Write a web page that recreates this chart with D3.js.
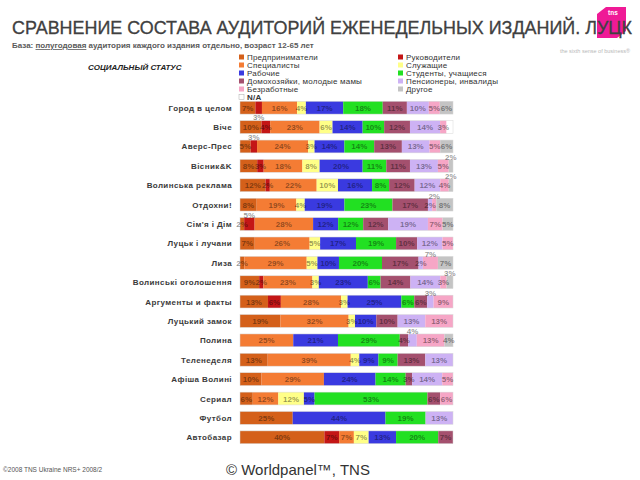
<!DOCTYPE html>
<html>
<head>
<meta charset="utf-8">
<script src="https://cdn.jsdelivr.net/npm/d3@7"></script>
<style>
  body { margin: 0; background: #fff; }
  svg { font-family: "Liberation Sans", Arial, sans-serif; display: block; }
</style>
</head>
<body>
<svg id="chart" width="640" height="480"></svg>
<script>
(function() {

    // Data
    const outlets = ['Город в целом', 'Віче', 'Аверс-Прес', 'Вісник&K', 'Волинська реклама',
        'Отдохни!', "Сім'я і Дім", 'Луцьк і лучани', 'Лиза', 'Волинські оголошення',
        'Аргументы и факты', 'Луцький замок', 'Полина', 'Теленеделя', 'Афіша Волині',
        'Сериал', 'Футбол', 'Автобазар'];

    const seriesNames = ['Предприниматели', 'Руководители', 'Специалисты', 'Служащие', 'Рабочие',
        'Студенты, учащиеся', 'Домохозяйки, молодые мамы', 'Пенсионеры, инвалиды',
        'Безработные', 'Другое', 'N/A'];

    const seriesColors = ['#d4601a', '#c41616', '#f47c34', '#ffff88', '#3a3ae0',
        '#22e022', '#a4506e', '#cdb2f4', '#f6a6c6', '#c4c4c4', '#ffffff'];

    // one array per series, in outlet order
    const entrepreneurs = [7, 10, 5, 8, 12, 8, 2, 7, 2, 9, 13, 19, 0, 13, 10, 6, 25, 40];
    const managers      = [3, 4, 3, 3, 2, 0, 5, 0, 0, 2, 6, 0, 0, 0, 0, 0, 0, 7];
    const specialists   = [16, 23, 24, 18, 22, 19, 28, 26, 29, 23, 28, 32, 25, 39, 29, 12, 0, 7];
    const clerks        = [4, 6, 3, 8, 10, 4, 0, 5, 5, 3, 3, 3, 0, 4, 0, 12, 0, 7];
    const workers       = [17, 14, 14, 20, 16, 19, 12, 17, 10, 23, 25, 10, 21, 9, 24, 5, 44, 13];
    const students      = [18, 10, 14, 11, 8, 23, 12, 19, 20, 6, 6, 0, 29, 9, 14, 53, 19, 20];
    const housewives    = [11, 12, 13, 11, 12, 17, 12, 10, 17, 14, 6, 10, 4, 13, 3, 6, 0, 7];
    const pensioners    = [10, 14, 13, 13, 12, 2, 19, 12, 2, 14, 3, 13, 4, 13, 14, 0, 13, 0];
    const unemployed    = [5, 3, 5, 5, 4, 2, 7, 5, 7, 3, 9, 13, 13, 0, 5, 6, 0, 0];
    const other         = [6, 0, 6, 2, 2, 8, 5, 0, 7, 3, 0, 0, 4, 0, 0, 0, 0, 0];
    const notAnswered   = [0, 3, 0, 0, 0, 0, 0, 0, 0, 0, 0, 0, 0, 0, 0, 0, 0, 0];

    const seriesValues = [entrepreneurs, managers, specialists, clerks, workers, students,
        housewives, pensioners, unemployed, other, notAnswered];

    // table for d3.stack
    const table = outlets.map((name, i) => {
        const row = { name: name };
        seriesNames.forEach((s, j) => { row[s] = seriesValues[j][i]; });
        return row;
    });

    const svg = d3.select('#chart');

    // Logo
    const logo = svg.append('g');
    logo.append('path')
        .attr('d', 'M597,14 L606,7 L626,7 L626,31 L617,38 L597,38 Z')
        .attr('fill', '#ef1a96');
    logo.append('text')
        .attr('x', 608).attr('y', 15)
        .attr('font-size', 6.5).attr('font-weight', 'bold')
        .attr('fill', '#fff')
        .text('tns');
    svg.append('text')
        .attr('x', 630).attr('y', 53)
        .attr('text-anchor', 'end')
        .attr('font-size', 5.5)
        .attr('fill', '#b8b8b8')
        .text('the sixth sense of business\u00AE');

    // Title
    svg.append('text')
        .attr('x', 12).attr('y', 34)
        .attr('font-size', 17.5)
        .attr('fill', '#404040')
        .attr('stroke', '#404040')
        .attr('stroke-width', 0.3)
        .attr('textLength', 620)
        .attr('lengthAdjust', 'spacingAndGlyphs')
        .text('СРАВНЕНИЕ СОСТАВА АУДИТОРИЙ ЕЖЕНЕДЕЛЬНЫХ ИЗДАНИЙ. ЛУЦК');

    const sub = svg.append('text')
        .attr('x', 12).attr('y', 48)
        .attr('font-size', 8)
        .attr('font-weight', 'bold')
        .attr('fill', '#5a5a5a');
    sub.append('tspan').text('База: ');
    sub.append('tspan').attr('text-decoration', 'underline').text('полугодовая');
    sub.append('tspan').text(' аудитория каждого издания отдельно, возраст 12-65 лет');

    svg.append('text')
        .attr('x', 88).attr('y', 70)
        .attr('font-size', 8)
        .attr('font-weight', 'bold')
        .attr('font-style', 'italic')
        .attr('fill', '#222')
        .text('СОЦИАЛЬНЫЙ СТАТУС');

    // Legend: left column then right column
    const legendOrder = [0, 2, 4, 6, 8, 10, 1, 3, 5, 7, 9];
    const legendTop = 57;
    const legend = svg.append('g').selectAll('g')
        .data(legendOrder)
        .enter()
        .append('g')
        .attr('transform', (d, i) => {
            const col = i < 6 ? 0 : 1;
            const r = col === 0 ? i : i - 6;
            return `translate(${col === 0 ? 239 : 398}, ${legendTop + r * 8})`;
        });

    legend.append('rect')
        .attr('x', 0).attr('y', -2.5)
        .attr('width', 5).attr('height', 5)
        .attr('fill', d => seriesColors[d])
        .attr('stroke', d => d === 10 ? '#aaa' : 'none')
        .attr('stroke-width', 0.5);

    legend.append('text')
        .attr('x', 8).attr('y', 3)
        .attr('font-size', 8)
        .attr('letter-spacing', 0.2)
        .attr('font-weight', d => d === 10 ? 'bold' : 'normal')
        .attr('fill', '#333')
        .text(d => seriesNames[d]);

    const legendBottom = legendTop + 5 * 8 + 5;

    // Scales
    const scaleX = d3.scaleLinear().domain([0, 1]).range([240, 453]);
    const scaleY = d3.scaleBand()
        .domain(outlets)
        .range([98, 447])
        .paddingInner(0.34)
        .paddingOuter(0.17);

    const stack = d3.stack()
        .keys(seriesNames)
        .offset(d3.stackOffsetExpand);
    const stacked = stack(table);

    // Row labels
    svg.append('g').selectAll('text')
        .data(outlets)
        .enter()
        .append('text')
        .attr('x', 232)
        .attr('y', d => scaleY(d) + scaleY.bandwidth() / 2 + 3)
        .attr('text-anchor', 'end')
        .attr('font-size', 8)
        .attr('font-weight', 'bold')
        .attr('letter-spacing', 0.4)
        .attr('fill', '#3a3a3a')
        .text(d => d);

    // Bars
    const layers = svg.append('g').selectAll('g')
        .data(stacked)
        .enter()
        .append('g')
        .attr('fill', (d, i) => seriesColors[i]);

    layers.selectAll('rect')
        .data(d => d)
        .enter()
        .append('rect')
        .attr('x', d => scaleX(d[0]))
        .attr('y', d => scaleY(d.data.name))
        .attr('width', d => scaleX(d[1]) - scaleX(d[0]))
        .attr('height', scaleY.bandwidth());

    // Thin frame round each bar
    svg.append('g').selectAll('rect')
        .data(outlets)
        .enter()
        .append('rect')
        .attr('x', scaleX(0))
        .attr('y', d => scaleY(d))
        .attr('width', scaleX(1) - scaleX(0))
        .attr('height', scaleY.bandwidth())
        .attr('fill', 'none')
        .attr('stroke', '#d8d8d8')
        .attr('stroke-width', 0.5);

    // Value labels: centred, small ones nudged up or down when they collide
    const labelData = [];
    stacked.forEach((layer, i) => {
        if (seriesNames[i] === 'N/A') return;
        layer.forEach(d => {
            const v = d.data[seriesNames[i]];
            if (v > 0) labelData.push({ row: d.data.name, x0: d[0], x1: d[1], v: v });
        });
    });

    const labels = svg.append('g').selectAll('text')
        .data(labelData)
        .enter()
        .append('text')
        .attr('x', d => (scaleX(d.x0) + scaleX(d.x1)) / 2)
        .attr('text-anchor', 'middle')
        .attr('font-size', 8)
        .attr('font-weight', 'bold')
        .attr('fill', '#000')
        .attr('fill-opacity', 0.42)
        .text(d => d.v + '%');

    const placed = {};
    const shifts = [0, -9, 9];
    labels.each(function(d) {
        const w = this.getComputedTextLength();
        const cx = (scaleX(d.x0) + scaleX(d.x1)) / 2;
        const box = [cx - w / 2, cx + w / 2];
        const base = scaleY(d.row) + scaleY.bandwidth() / 2 + 3;
        const list = placed[d.row] || (placed[d.row] = []);
        let shift = shifts.find(s =>
            base + s - 8 > legendBottom &&
            !list.some(p => p.s === s && p.b[0] < box[1] && box[0] < p.b[1]));
        if (shift === undefined) shift = 0;
        list.push({ s: shift, b: box });
        d3.select(this).attr('y', base + shift);
    });

    // Footer
    svg.append('text')
        .attr('x', 3).attr('y', 472)
        .attr('font-size', 6.5)
        .attr('fill', '#555')
        .text('©2008 TNS Ukraine  NRS+ 2008/2');

    svg.append('text')
        .attr('x', 226).attr('y', 475)
        .attr('font-size', 15)
        .attr('fill', '#333')
        .text('© Worldpanel™, TNS');

})();
</script>
</body>
</html>
